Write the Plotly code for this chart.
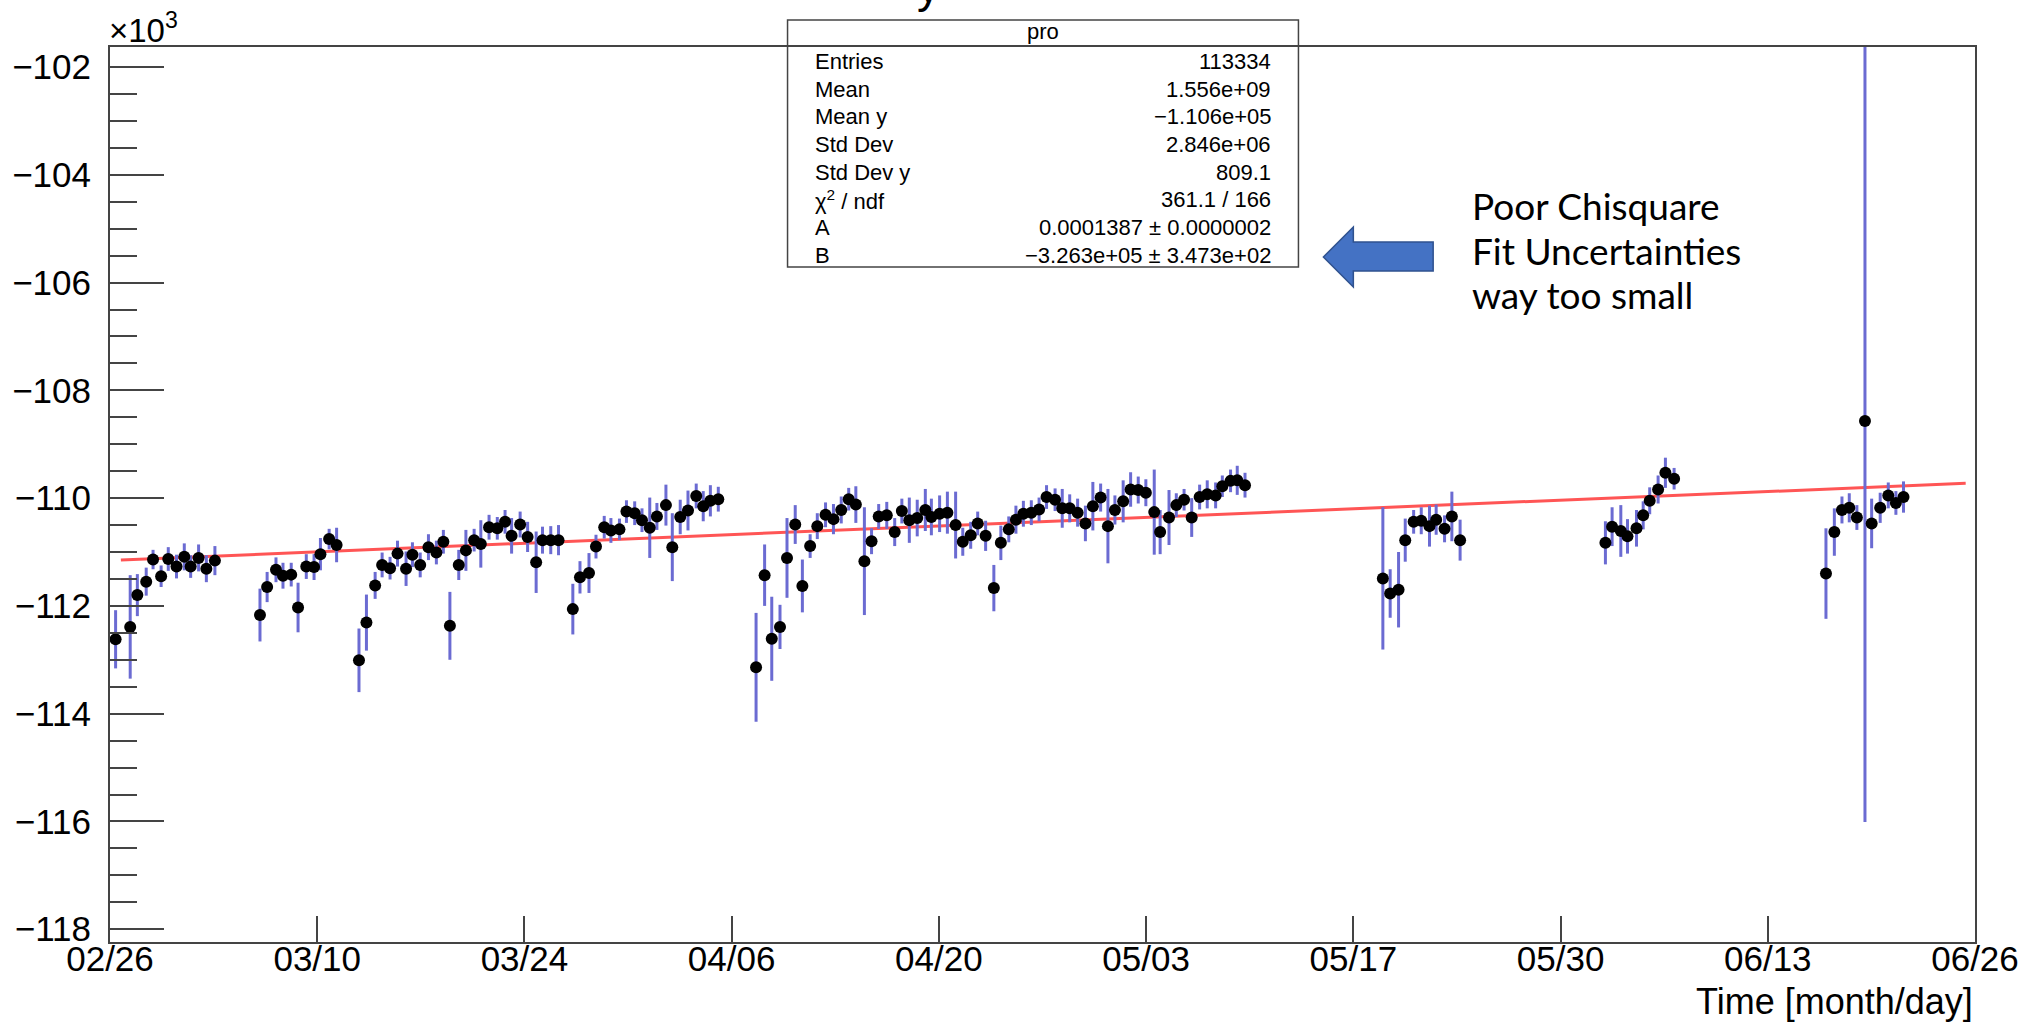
import numpy as np
import plotly.graph_objects as go

# Time axis: days since 2019-02-26 00:00 UTC, shown as month/day labels
T0_UNIX = 1551139200
AXIS_DAYS = (0.0, 120.0)
date_labels = ["02/26", "03/10", "03/24", "04/06", "04/20",
               "05/03", "05/17", "05/30", "06/13", "06/26"]

# Profile bin centres (days), mean values and errors (units of 10^3)
day = [
    0.36, 1.30, 1.76, 2.33, 2.77, 3.29, 3.75, 4.28, 4.78, 5.19, 5.70, 6.20, 6.75,
    9.65, 10.11, 10.68, 11.13, 11.66, 12.10, 12.63, 13.13, 13.54, 14.10, 14.58,
    16.02, 16.50, 17.06, 17.51, 18.02, 18.50, 19.05, 19.46, 19.96, 20.49, 21.00,
    21.45, 21.87, 22.44, 22.90, 23.43, 23.86, 24.39, 24.92, 25.42, 25.84, 26.39,
    26.87, 27.42, 27.83, 28.36, 28.86,
    29.78, 30.24, 30.82, 31.27, 31.80, 32.23, 32.78, 33.23, 33.76, 34.23, 34.73,
    35.19, 35.77, 36.18, 36.69, 37.19, 37.72, 38.17, 38.63, 39.14,
    41.57, 42.12, 42.58, 43.11, 43.56, 44.09, 44.55, 45.05, 45.51, 46.04, 46.55,
    47.05, 47.53, 47.99, 48.54, 49.00, 49.46, 49.98, 50.49, 50.95, 51.43, 51.94,
    52.46, 52.85, 53.38, 53.88, 54.41, 54.87, 55.38, 55.83, 56.34, 56.87, 57.32,
    57.83, 58.29, 58.77, 59.28, 59.78, 60.26, 60.81, 61.27, 61.75, 62.26, 62.76,
    63.24, 63.74, 64.21, 64.66, 65.19, 65.67, 66.16, 66.65, 67.19, 67.57, 68.14,
    68.61, 69.11, 69.60, 70.11, 70.60, 71.14, 71.57, 72.10, 72.53, 73.03,
    81.90, 82.37, 82.91, 83.34, 83.88, 84.37, 84.90, 85.33, 85.87, 86.34, 86.87,
    96.22, 96.65, 97.21, 97.64, 98.22, 98.65, 99.07, 99.61, 100.08, 100.64,
    110.41, 110.95, 111.44, 111.91, 112.40, 112.92, 113.35, 113.90, 114.42,
    114.91, 115.40,
]
mean_k = [
    -112.62, -112.39, -111.80, -111.55, -111.14, -111.45, -111.13, -111.27,
    -111.09, -111.27, -111.11, -111.31, -111.16,
    -112.17, -111.65, -111.33, -111.44, -111.42, -112.03, -111.27, -111.28,
    -111.04, -110.76, -110.87,
    -113.01, -112.31, -111.62, -111.24, -111.30, -111.03, -111.31, -111.05,
    -111.24, -110.91, -111.01, -110.81, -112.37, -111.24, -110.97, -110.78,
    -110.85, -110.54, -110.56, -110.44, -110.70, -110.49, -110.72, -111.19,
    -110.78, -110.78, -110.78,
    -112.06, -111.47, -111.39, -110.90, -110.54, -110.60, -110.58, -110.25,
    -110.28, -110.41, -110.55, -110.34, -110.13, -110.91, -110.35, -110.23,
    -109.96, -110.15, -110.05, -110.02,
    -113.14, -111.43, -112.61, -112.39, -111.11, -110.49, -111.63, -110.89,
    -110.52, -110.31, -110.39, -110.22, -110.02, -110.12, -111.17, -110.80,
    -110.34, -110.32, -110.63, -110.24, -110.41, -110.37, -110.22, -110.35,
    -110.29, -110.27, -110.50, -110.81, -110.69, -110.47, -110.70, -111.67,
    -110.83, -110.58, -110.40, -110.29, -110.27, -110.21, -109.98, -110.03,
    -110.19, -110.19, -110.27, -110.47, -110.15, -109.99, -110.52, -110.22,
    -110.06, -109.84, -109.85, -109.90, -110.26, -110.63, -110.36, -110.13,
    -110.03, -110.36, -109.98, -109.93, -109.95, -109.78, -109.68, -109.67,
    -109.76,
    -111.49, -111.77, -111.70, -110.78, -110.44, -110.42, -110.52, -110.40,
    -110.57, -110.34, -110.78,
    -110.83, -110.53, -110.61, -110.71, -110.56, -110.32, -110.05, -109.84,
    -109.53, -109.64,
    -111.40, -110.63, -110.22, -110.18, -110.36, -108.57, -110.47, -110.18,
    -109.95, -110.09, -109.98,
]
err_k = [
    0.54, 0.96, 0.39, 0.26, 0.18, 0.20, 0.22, 0.22, 0.25, 0.21, 0.25, 0.25, 0.27,
    0.49, 0.28, 0.23, 0.24, 0.22, 0.46, 0.23, 0.24, 0.30, 0.19, 0.32,
    0.59, 0.52, 0.25, 0.23, 0.21, 0.24, 0.32, 0.23, 0.23, 0.24, 0.22, 0.22,
    0.63, 0.28, 0.38, 0.21, 0.44, 0.23, 0.21, 0.22, 0.33, 0.24, 0.28, 0.57,
    0.25, 0.26, 0.28,
    0.47, 0.30, 0.37, 0.22, 0.21, 0.23, 0.20, 0.21, 0.22, 0.22, 0.56, 0.25,
    0.38, 0.63, 0.32, 0.37, 0.23, 0.28, 0.29, 0.23,
    1.01, 0.57, 0.78, 0.41, 0.74, 0.36, 0.49, 0.22, 0.24, 0.23, 0.28, 0.25,
    0.21, 0.34, 1.00, 0.24, 0.23, 0.25, 0.26, 0.23, 0.42, 0.34, 0.39, 0.34,
    0.34, 0.39, 0.62, 0.26, 0.25, 0.22, 0.28, 0.43, 0.32, 0.24, 0.26, 0.24,
    0.23, 0.22, 0.22, 0.21, 0.36, 0.26, 0.26, 0.33, 0.45, 0.26, 0.69, 0.27,
    0.39, 0.32, 0.25, 0.25, 0.79, 0.41, 0.51, 0.22, 0.20, 0.36, 0.23, 0.26,
    0.24, 0.20, 0.21, 0.27, 0.23,
    1.32, 0.45, 0.70, 0.40, 0.22, 0.25, 0.38, 0.28, 0.25, 0.46, 0.38,
    0.40, 0.36, 0.48, 0.32, 0.34, 0.26, 0.25, 0.26, 0.28, 0.20,
    0.84, 0.44, 0.25, 0.27, 0.23, 7.44, 0.46, 0.28, 0.24, 0.22, 0.29,
]

# Linear fit y = A*t + B (t in unix seconds), drawn over its fit range in days
fit_A = 0.0001387
fit_B = -3.263e5
fit_range_days = [0.7, 119.4]

# Statistics box contents
stats_title = "pro"
stats_labels = ["Entries", "Mean", "Mean y", "Std Dev", "Std Dev y",
                "χ<sup>2</sup> / ndf", "A", "B"]
stats_values = ["113334", "1.556e+09", "−1.106e+05", "2.846e+06", "809.1",
                "361.1 / 166", "0.0001387 ± 0.0000002",
                "−3.263e+05 ± 3.473e+02"]
note_lines = ["Poor Chisquare", "Fit Uncertainties", "way too small"]

W, H = 2032, 1023
L, R, T, B = 106, 1975, 47, 942          # plot frame in pixels
ROOT_FONT = "Liberation Sans, Arial, Helvetica, sans-serif"
FRAME = "#444444"


def xp(px):
    return (px - L) / (R - L)


def yp(py):
    return (B - py) / (B - T)


fig = go.Figure()

fit_x = np.array(fit_range_days)
fit_y = (fit_A * (T0_UNIX + fit_x * 86400.0) + fit_B) / 1e3
fig.add_trace(go.Scatter(
    x=fit_x, y=fit_y, mode="lines",
    line=dict(color="#ff5555", width=3), hoverinfo="skip"))

fig.add_trace(go.Scatter(
    x=day, y=mean_k, mode="markers",
    marker=dict(color="black", size=12, line=dict(width=0)),
    error_y=dict(type="data", array=err_k, visible=True,
                 color="#6b6bd2", thickness=3, width=0)))

fig.update_layout(
    width=W, height=H,
    margin=dict(l=L, r=W - R, t=T, b=H - B, pad=0),
    paper_bgcolor="white", plot_bgcolor="white",
    showlegend=False,
    font=dict(family=ROOT_FONT, color="black"),
)

fig.update_xaxes(
    range=list(AXIS_DAYS),
    tickvals=np.linspace(AXIS_DAYS[0], AXIS_DAYS[1], len(date_labels)),
    ticktext=date_labels,
    ticks="inside", ticklen=26, tickwidth=2, tickcolor=FRAME,
    showline=True, linecolor=FRAME, linewidth=2, mirror=True,
    showgrid=False, zeroline=False,
    tickfont=dict(size=35, family=ROOT_FONT, color="black"),
    ticklabelstandoff=-15,
)
fig.update_yaxes(
    range=[-118.237, -101.629],
    tick0=-102, dtick=2,
    ticks="inside", ticklen=54, tickwidth=2, tickcolor=FRAME,
    minor=dict(dtick=0.5, ticks="inside", ticklen=27, tickwidth=2,
               tickcolor=FRAME),
    showline=True, linecolor=FRAME, linewidth=2, mirror=True,
    showgrid=False, zeroline=False,
    tickfont=dict(size=35, family=ROOT_FONT, color="black"),
    ticklabelstandoff=10,
)

shapes = []
annotations = []

# statistics box
box_x0, box_x1, box_y0, box_y1 = 785, 1297, 20, 267
shapes.append(dict(type="rect", xref="paper", yref="paper",
                   x0=xp(box_x0), x1=xp(box_x1), y0=yp(box_y1), y1=yp(box_y0),
                   fillcolor="white", line=dict(color=FRAME, width=1.5),
                   layer="above"))
shapes.append(dict(type="line", xref="paper", yref="paper",
                   x0=xp(box_x0), x1=xp(box_x1), y0=yp(46), y1=yp(46),
                   line=dict(color=FRAME, width=2), layer="above"))
annotations.append(dict(text=stats_title, xref="paper", yref="paper",
                        x=xp((box_x0 + box_x1) / 2), y=yp(31),
                        xanchor="center", yanchor="middle", showarrow=False,
                        font=dict(size=22, family=ROOT_FONT, color="black")))
for i, (lab, val) in enumerate(zip(stats_labels, stats_values)):
    row_y = 61.7 + 27.62 * i
    annotations.append(dict(text=lab, xref="paper", yref="paper",
                            x=xp(811), y=yp(row_y), xanchor="left",
                            yanchor="middle", showarrow=False,
                            font=dict(size=22, family=ROOT_FONT, color="black")))
    annotations.append(dict(text=val, xref="paper", yref="paper",
                            x=xp(1271), y=yp(row_y), xanchor="right",
                            yanchor="middle", showarrow=False,
                            font=dict(size=22, family=ROOT_FONT, color="black")))

# exponent marker of the y axis
annotations.append(dict(text="×10<sup>3</sup>", xref="paper", yref="paper",
                        x=xp(103), y=yp(51), xanchor="left", yanchor="bottom",
                        showarrow=False,
                        font=dict(size=33, family=ROOT_FONT, color="black")))

# x-axis title, right aligned with the frame
annotations.append(dict(text="Time [month/day]", xref="paper", yref="paper",
                        x=xp(1975), y=yp(1002), xanchor="right",
                        yanchor="middle", showarrow=False,
                        font=dict(size=36, family=ROOT_FONT, color="black")))

# descender of the histogram title, mostly above the page edge
annotations.append(dict(text="y", xref="paper", yref="paper",
                        x=xp(926), y=yp(14), xanchor="center",
                        yanchor="bottom", showarrow=False,
                        font=dict(size=46, family=ROOT_FONT, color="black")))

# block arrow pointing at the fit parameters
ax = [1322, 1352, 1352, 1432, 1432, 1352, 1352]
ay = [257, 227, 242, 242, 271, 271, 287]
path = "M " + " L ".join(f"{xp(a):.5f},{yp(b):.5f}" for a, b in zip(ax, ay)) + " Z"
shapes.append(dict(type="path", xref="paper", yref="paper", path=path,
                   fillcolor="#4472C4", line=dict(color="#2F528F", width=1.5),
                   layer="above"))

for i, line in enumerate(note_lines):
    annotations.append(dict(text=line, xref="paper", yref="paper",
                            x=xp(1469), y=yp(206 + 44.3 * i), xanchor="left",
                            yanchor="middle", showarrow=False,
                            font=dict(size=37, family="Lato, Open Sans, sans-serif",
                                      color="black")))

fig.update_layout(shapes=shapes, annotations=annotations)

fig.write_html("out.html")
